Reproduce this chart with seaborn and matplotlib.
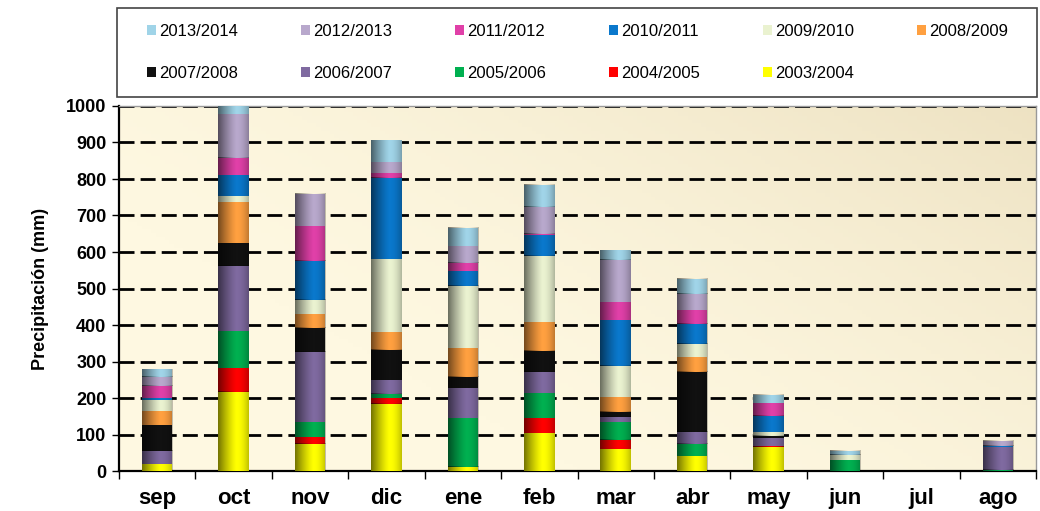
import numpy as np
import pandas as pd
import matplotlib
matplotlib.use("Agg")
import matplotlib.pyplot as plt
import seaborn as sns
from matplotlib.patches import Patch, Rectangle

months = ["sep", "oct", "nov", "dic", "ene", "feb", "mar", "abr", "may", "jun", "jul", "ago"]

# precipitation per hydrological year (mm), bottom to top of each stack
p_0304 = [19, 217, 74, 184, 11, 104, 59, 41, 66, 0, 0, 0]
p_0405 = [0, 65, 18, 16, 0, 41, 26, 0, 2, 0, 0, 0]
p_0506 = [0, 101, 41, 11, 134, 68, 49, 33, 0, 30, 0, 4]
p_0607 = [36, 179, 193, 38, 82, 58, 14, 33, 23, 0, 0, 62]
p_0708 = [71, 63, 66, 83, 31, 58, 15, 165, 6, 0, 0, 0]
p_0809 = [38, 112, 38, 49, 79, 79, 40, 40, 0, 0, 0, 0]
p_0910 = [30, 16, 39, 200, 170, 181, 86, 36, 10, 14, 0, 0]
p_1011 = [5, 57, 107, 223, 41, 57, 125, 55, 45, 0, 0, 3]
p_1112 = [34, 47, 95, 12, 22, 3, 49, 38, 33, 0, 0, 0]
p_1213 = [25, 120, 88, 30, 46, 74, 116, 44, 0, 0, 0, 14]
p_1314 = [21, 23, 0, 60, 50, 61, 26, 42, 24, 11, 0, 0]

seasons = ["2003/2004", "2004/2005", "2005/2006", "2006/2007", "2007/2008", "2008/2009",
           "2009/2010", "2010/2011", "2011/2012", "2012/2013", "2013/2014"]
series = [p_0304, p_0405, p_0506, p_0607, p_0708, p_0809,
          p_0910, p_1011, p_1112, p_1213, p_1314]
colors = ["#FFFF00", "#FF0000", "#00B050", "#7F6AA0", "#111111", "#FFA040",
          "#EAF2D0", "#0A78CC", "#E040A8", "#B8A8CC", "#A0D4E8"]

plt.rcParams['font.family'] = ['Liberation Sans', 'DejaVu Sans']

fig = plt.figure(figsize=(10.4, 5.11), dpi=100)
ax = fig.add_axes([119 / 1040, 40 / 511, 917 / 1040, 365 / 511])

# cream gradient background
gx, gy = np.meshgrid(np.linspace(0, 1, 200), np.linspace(0, 1, 100))
t = np.clip((gx * 0.7 + gy * 0.5) - 0.35, 0, 1) ** 1.5
c0 = np.array([254, 248, 225]) / 255
c1 = np.array([233, 220, 186]) / 255
bg = c0 + (c1 - c0) * t[..., None]
ax.imshow(bg, extent=(0, 1, 0, 1), transform=ax.transAxes, origin="lower",
          aspect="auto", zorder=0)

df = pd.DataFrame(dict(zip(seasons, series)), index=months)
bottom = np.zeros(len(months))
for s, c in zip(seasons, colors):
    sns.barplot(x=df.index, y=df[s].values, bottom=bottom, color=c, width=0.4,
                saturation=1, edgecolor="none", ax=ax, zorder=3)
    bottom += df[s].values

# cylinder-like shading on each bar
shade = np.zeros((1, 64, 4))
u = np.linspace(0, 1, 64)
shade[0, :, 3] = np.where(u < 0.6, 0.55 * (1 - u / 0.6) ** 1.3, 0.25 * ((u - 0.6) / 0.4) ** 2)
for p in list(ax.patches):
    h = p.get_height()
    if h <= 0:
        continue
    x0 = p.get_x()
    ax.imshow(shade, extent=(x0, x0 + p.get_width(), p.get_y(), p.get_y() + h),
              aspect="auto", zorder=4, interpolation="bilinear")

ax.set_xlim(-0.5, len(months) - 0.5)
ax.set_ylim(0, 1000)
ax.set_yticks(np.arange(0, 1001, 100))
ax.yaxis.grid(True, color="black", linewidth=2, linestyle=(0, (5.4, 2.2)), zorder=1)
ax.set_axisbelow(True)
ax.xaxis.grid(False)

ax.set_xticks(range(len(months)))
ax.set_xticklabels(months, fontsize=16, fontweight="bold")
ax.set_xticks(np.arange(-0.5, len(months), 1), minor=True)
ax.tick_params(axis="x", which="major", length=0, pad=12)
ax.tick_params(axis="x", which="minor", length=6, width=1, direction="out")
ax.tick_params(axis="y", labelsize=13, length=5, width=1, pad=4)
for lbl in ax.get_yticklabels():
    lbl.set_fontweight("bold")
ax.set_ylabel("Precipitación (mm)", fontsize=13, fontweight="bold", labelpad=12)
ax.set_xlabel("")

for side in ["left", "bottom"]:
    ax.spines[side].set_color("black")
    ax.spines[side].set_linewidth(1.6)
for side in ["top", "right"]:
    ax.spines[side].set_color("#999999")
    ax.spines[side].set_linewidth(1)

# legend in row-major order: newest first
order_names = seasons[::-1]
rows = [order_names[:6], order_names[6:]]
handles = []
for i in range(6):
    for r in rows:
        if i < len(r):
            name = r[i]
            handles.append(Patch(facecolor=colors[seasons.index(name)], label=name))
fig.legend(handles=handles, ncol=6, loc="upper left",
           bbox_to_anchor=(147 / 1040, 1 - 24 / 511),
           borderaxespad=0, borderpad=0, frameon=False,
           handlelength=0.55, handleheight=0.55, handletextpad=0.2,
           labelspacing=1.6, columnspacing=3.75, prop={"size": 12})
fig.patches.append(Rectangle((117 / 1040, 1 - 97 / 511), 920 / 1040, 89 / 511,
                             transform=fig.transFigure, fill=False,
                             edgecolor="#444444", linewidth=1.2))

fig.savefig("out.png", dpi=100)
plt.close(fig)
